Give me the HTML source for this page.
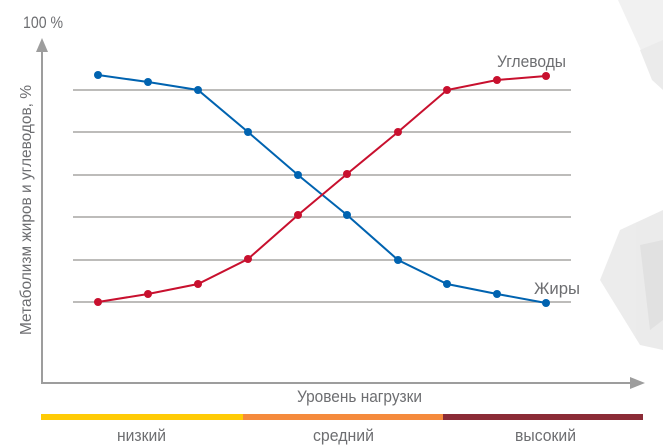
<!DOCTYPE html><html><head><meta charset="utf-8"><style>body{margin:0;background:#fff}svg{display:block}text{font-family:"Liberation Sans",sans-serif;fill:#6d6e71}</style></head><body>
<svg width="663" height="448" viewBox="0 0 663 448">
<g opacity="0.5">
<polygon points="618,0 663,0 663,60 650,70" fill="#e4e4e4"/>
<polygon points="640,50 663,40 663,90 652,80" fill="#d8d8d8"/>
<polygon points="620,230 663,210 663,350 640,345 600,280" fill="#d9d9d9"/>
<polygon points="640,245 663,240 663,320 650,330" fill="#c4c4c4"/>
</g>
<g stroke="#a7a5a3" stroke-width="1.5">
<line x1="73" y1="90" x2="571" y2="90"/><line x1="73" y1="132" x2="571" y2="132"/><line x1="73" y1="175" x2="571" y2="175"/><line x1="73" y1="217" x2="571" y2="217"/><line x1="73" y1="260" x2="571" y2="260"/><line x1="73" y1="302" x2="571" y2="302"/>
</g>
<g stroke="#9d9d9d" stroke-width="2" fill="none"><line x1="42" y1="50" x2="42" y2="383"/><line x1="41" y1="383" x2="632" y2="383"/></g>
<polygon points="42,38 36,52 48,52" fill="#9d9d9d"/><polygon points="645,383 630,377 630,389" fill="#9d9d9d"/>
<text x="23" y="28" font-size="17" textLength="40" lengthAdjust="spacingAndGlyphs" fill="#8a7a6e">100 %</text>
<text transform="translate(31,335) rotate(-90)" font-size="16" textLength="250" lengthAdjust="spacingAndGlyphs">Метаболизм жиров и углеводов, %</text>
<polyline fill="none" stroke="#0063b0" stroke-width="2" points="98,75 148,82 198,90 248,132 298,175 347,215 398,260 447,284 497,294 546,303"/>
<polyline fill="none" stroke="#c8102e" stroke-width="2" points="98,302 148,294 198,284 248,259 298,215 347,174 398,132 447,90 497,80 546,76"/>
<g fill="#0063b0"><circle cx="98" cy="75" r="4"/><circle cx="148" cy="82" r="4"/><circle cx="198" cy="90" r="4"/><circle cx="248" cy="132" r="4"/><circle cx="298" cy="175" r="4"/><circle cx="347" cy="215" r="4"/><circle cx="398" cy="260" r="4"/><circle cx="447" cy="284" r="4"/><circle cx="497" cy="294" r="4"/><circle cx="546" cy="303" r="4"/></g>
<g fill="#c8102e"><circle cx="98" cy="302" r="4"/><circle cx="148" cy="294" r="4"/><circle cx="198" cy="284" r="4"/><circle cx="248" cy="259" r="4"/><circle cx="298" cy="215" r="4"/><circle cx="347" cy="174" r="4"/><circle cx="398" cy="132" r="4"/><circle cx="447" cy="90" r="4"/><circle cx="497" cy="80" r="4"/><circle cx="546" cy="76" r="4"/></g>
<text x="497" y="67" font-size="17" textLength="69" lengthAdjust="spacingAndGlyphs">Углеводы</text>
<text x="534" y="294" font-size="17" textLength="46" lengthAdjust="spacingAndGlyphs">Жиры</text>
<text x="297" y="402" font-size="17" textLength="125" lengthAdjust="spacingAndGlyphs">Уровень нагрузки</text>
<rect x="41" y="414" width="202" height="6" fill="#ffcb05"/><rect x="243" y="414" width="200" height="6" fill="#f58a3c"/><rect x="443" y="414" width="200" height="6" fill="#8b2b36"/>
<text x="117" y="441" font-size="17" textLength="49" lengthAdjust="spacingAndGlyphs">низкий</text><text x="313" y="441" font-size="17" textLength="61" lengthAdjust="spacingAndGlyphs">средний</text><text x="515" y="441" font-size="17" textLength="61" lengthAdjust="spacingAndGlyphs">высокий</text>
</svg></body></html>
